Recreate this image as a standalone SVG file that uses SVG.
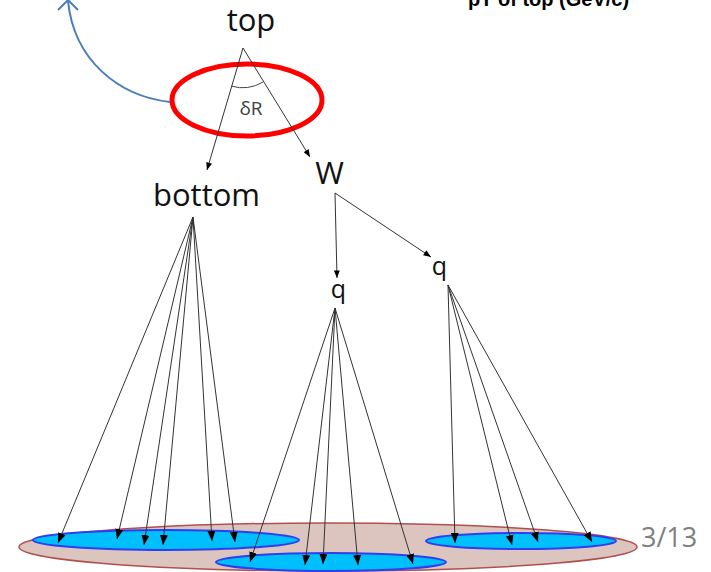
<svg xmlns="http://www.w3.org/2000/svg" width="711" height="572" viewBox="0 0 711 572">
<style>
.lbl{font-family:"Open Sans","Liberation Sans",sans-serif;fill:#111;text-anchor:middle}
.ln{stroke:#333;stroke-width:1;fill:none;marker-end:url(#ah)}
.ln2{stroke:#333;stroke-width:1;fill:none;marker-end:url(#ah2)}
.blue{fill:#00BFFF;stroke:#2F3FF0;stroke-width:2}
</style>
<defs>
<marker id="ah" viewBox="0 0 10 8" refX="10" refY="4" markerWidth="10" markerHeight="8" markerUnits="userSpaceOnUse" orient="auto">
<path d="M0,0 L10,4 L0,8 Z" fill="#000"/>
</marker>
<marker id="ah2" viewBox="0 0 10 8" refX="10" refY="4" markerWidth="8" markerHeight="6" markerUnits="userSpaceOnUse" orient="auto">
<path d="M0,0 L10,4 L0,8 Z" fill="#000"/>
</marker>
</defs>
<rect width="711" height="572" fill="#fff"/>

<g id="title-fragment">
<text x="468" y="5.5" font-family="Liberation Sans, Arial, sans-serif" font-weight="bold" font-size="20" fill="#000">pT of top (GeV/c)</text>
</g>

<g id="clusters">
<ellipse id="all-jets" cx="328" cy="547" rx="309" ry="24" fill="#DCC5BE" stroke="#B0504F" stroke-width="1.5"/>
<ellipse id="cluster-bottom" class="blue" cx="166" cy="540" rx="133" ry="10"/>
<ellipse id="cluster-q1" class="blue" cx="331" cy="562" rx="115" ry="9"/>
<ellipse id="cluster-q2" class="blue" cx="521" cy="541" rx="95" ry="8"/>
</g>

<g id="deltaR-ring">
<ellipse cx="247" cy="100" rx="75" ry="36" fill="none" stroke="#FF0000" stroke-width="5"/>
</g>

<g id="connectors">
<path class="ln2" d="M243,48 L207,170"/>
<path class="ln2" d="M243,48 L310,157"/>
<path class="ln2" d="M335,193 L337,278"/>
<path class="ln2" d="M335,193 L431,257"/>
<path class="ln" d="M193,217 L58,543"/>
<path class="ln" d="M193,217 L117,539"/>
<path class="ln" d="M193,217 L144,545"/>
<path class="ln" d="M193,217 L163,545"/>
<path class="ln" d="M193,217 L212,541"/>
<path class="ln" d="M193,217 L235,542"/>
<path class="ln" d="M335,308 L250,562"/>
<path class="ln" d="M335,308 L305,565"/>
<path class="ln" d="M335,308 L323,564"/>
<path class="ln" d="M335,308 L358,565"/>
<path class="ln" d="M335,308 L413,564"/>
<path class="ln" d="M448,285 L455,543"/>
<path class="ln" d="M448,285 L512,545"/>
<path class="ln" d="M448,285 L538,542"/>
<path class="ln" d="M448,285 L592,542"/>
<path d="M170,102 C118,96 74,60 68,1" fill="none" stroke="#4A7EBB" stroke-width="2"/>
<path d="M58,10 L68,0 L78,10" fill="none" stroke="#4A7EBB" stroke-width="2"/>
</g>

<g id="deltaR">
<path d="M231,86 A40,40 0 0 0 263,82" fill="none" stroke="#444" stroke-width="1"/>
<text x="251" y="115" font-family="Open Sans, Liberation Sans, sans-serif" font-size="19" fill="#404040" text-anchor="middle">δR</text>
</g>

<g id="node-top"><text class="lbl" x="251" y="31" font-size="31">top</text></g>
<g id="node-bottom"><text class="lbl" x="206.5" y="206" font-size="31">bottom</text></g>
<g id="node-W"><text class="lbl" x="329.5" y="184" font-size="31">W</text></g>
<g id="node-q1"><text class="lbl" x="338.5" y="298" font-size="25">q</text></g>
<g id="node-q2"><text class="lbl" x="439.5" y="275" font-size="25">q</text></g>

<g id="page-number">
<text x="641" y="547" font-family="Open Sans, Liberation Sans, sans-serif" font-size="27" fill="#808080">3/13</text>
</g>
</svg>
